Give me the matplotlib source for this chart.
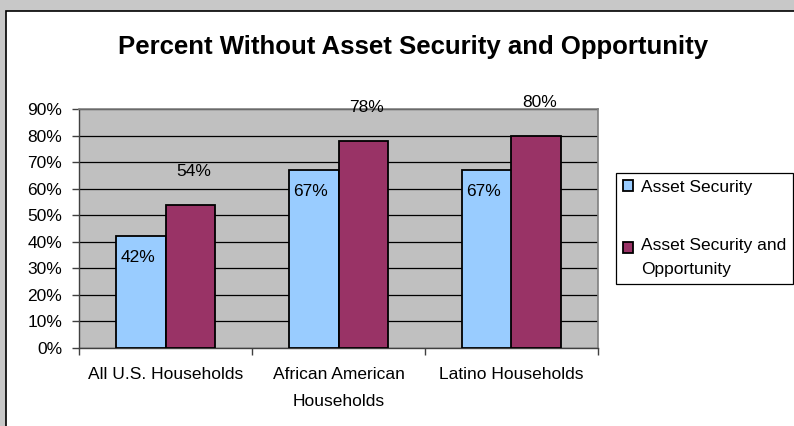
import matplotlib
matplotlib.use("Agg")
import matplotlib.pyplot as plt
from matplotlib.patches import Rectangle
from matplotlib.ticker import FuncFormatter, FixedLocator
import numpy as np

categories = ["All U.S. Households", "African American\nHouseholds", "Latino Households"]
series_names = ["Asset Security", "Asset Security and\nOpportunity"]
asset_security = [42, 67, 67]
asset_security_opportunity = [54, 78, 80]
yticks = [0, 10, 20, 30, 40, 50, 60, 70, 80, 90]

plt.rcParams['font.family'] = ['Liberation Sans', 'DejaVu Sans']

W, H = 794, 426
fig = plt.figure(figsize=(W / 100, H / 100), dpi=100)
fig.patch.set_facecolor('#c8c8c8')

# white chart area with dark border (left/top visible)
bg = Rectangle((6 / W, -0.05), 1.1, (H - 11) / H + 0.05, transform=fig.transFigure,
               facecolor='white', edgecolor='black', linewidth=1.2, zorder=-10)
fig.patches.append(bg)

ax = fig.add_axes([79 / W, 1 - 348 / H, (598 - 79) / W, (348 - 109) / H])
ax.set_zorder(1)
ax.set_facecolor('#c0c0c0')

x = np.arange(len(categories))
w = 0.289
b1 = ax.bar(x - w / 2, asset_security, w, color='#99ccff', edgecolor='black', linewidth=1.3, zorder=3)
b2 = ax.bar(x + w / 2, asset_security_opportunity, w, color='#993366', edgecolor='black', linewidth=1.3, zorder=3)

fs = 12.5
ax.set_xlim(-0.5, 2.5)
ax.set_ylim(0, 90)
ax.set_yticks(yticks)
ax.yaxis.set_major_formatter(FuncFormatter(lambda v, p: f"{int(v)}%"))
ax.set_xticks(x)
ax.set_xticklabels(categories, fontsize=fs, linespacing=1.95)
ax.xaxis.set_minor_locator(FixedLocator([-0.5, 0.5, 1.5, 2.5]))
ax.tick_params(axis='x', which='major', length=0, pad=14)
ax.tick_params(axis='x', which='minor', length=5, width=1, color='#404040')
ax.tick_params(axis='y', length=5, width=1, color='#404040', labelsize=fs, pad=7)

ax.grid(axis='y', color='black', linewidth=0.9, zorder=1)
ax.set_axisbelow(True)
for s in ['top', 'right']:
    ax.spines[s].set_color('#808080')
    ax.spines[s].set_linewidth(1.2)
for s in ['left', 'bottom']:
    ax.spines[s].set_color('#404040')
    ax.spines[s].set_linewidth(1.0)

for r, v in zip(b1, asset_security):
    ax.annotate(f"{v}%", (r.get_x() + r.get_width() / 2, v), xytext=(-2, -15.5),
                textcoords='offset points', ha='center', va='center', fontsize=fs, zorder=5)
for r, v in zip(b2, asset_security_opportunity):
    ax.annotate(f"{v}%", (r.get_x() + r.get_width() / 2, v), xytext=(2, 24),
                textcoords='offset points', ha='center', va='center', fontsize=fs,
                zorder=5, annotation_clip=False)

fig.text(413 / W, 1 - 47 / H, "Percent Without Asset Security and Opportunity",
         ha='center', va='center', fontsize=18.5, fontweight='bold')

leg = fig.legend([b1, b2], series_names, loc='upper left',
                 bbox_to_anchor=(616 / W, 1 - 173 / H), fontsize=fs,
                 frameon=True, fancybox=False, edgecolor='black', framealpha=1,
                 handlelength=0.6, handleheight=0.6, handletextpad=0.45,
                 labelspacing=2.5, borderpad=0.4, borderaxespad=0)
leg.get_frame().set_linewidth(0.9)
leg.get_texts()[1].set_linespacing(1.75)
# align second handle with first line of its label
h2 = leg.legend_handles[1]
h2.set_y(h2.get_y() + 0.6 * fs)

fig.savefig("out.png", dpi=100, facecolor=fig.get_facecolor())
